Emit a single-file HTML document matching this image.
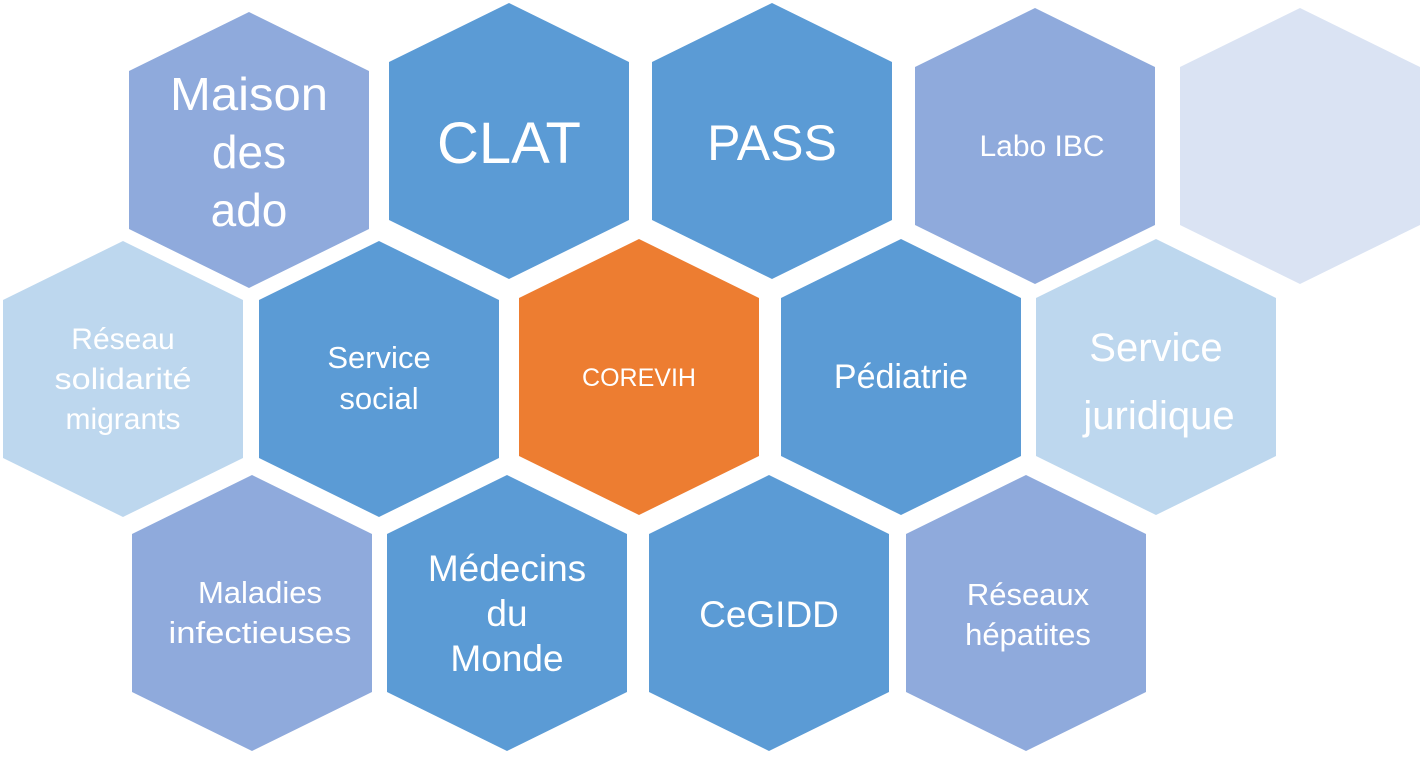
<!DOCTYPE html>
<html><head><meta charset="utf-8"><style>
html,body{margin:0;padding:0;background:#fff;width:1422px;height:757px;overflow:hidden}
text{font-family:"Liberation Sans",sans-serif;fill:#fff;text-anchor:middle}
</style></head><body>
<svg width="1422" height="757" viewBox="0 0 1422 757" xmlns="http://www.w3.org/2000/svg">
<defs>
<polygon id="h" points="0,-138 120,-79 120,79 0,138 -120,79 -120,-79"/>
</defs>
<use href="#h" x="249" y="150" fill="#8FAADC"/>
<use href="#h" x="509" y="141" fill="#5B9BD5"/>
<use href="#h" x="772" y="141" fill="#5B9BD5"/>
<use href="#h" x="1035" y="146" fill="#8FAADC"/>
<use href="#h" x="1300" y="146" fill="#DAE3F3"/>
<use href="#h" x="123" y="379" fill="#BDD7EE"/>
<use href="#h" x="379" y="379" fill="#5B9BD5"/>
<use href="#h" x="639" y="377" fill="#ED7D31"/>
<use href="#h" x="901" y="377" fill="#5B9BD5"/>
<use href="#h" x="1156" y="377" fill="#BDD7EE"/>
<use href="#h" x="252" y="613" fill="#8FAADC"/>
<use href="#h" x="507" y="613" fill="#5B9BD5"/>
<use href="#h" x="769" y="613" fill="#5B9BD5"/>
<use href="#h" x="1026" y="613" fill="#8FAADC"/>

<text x="249" y="110" font-size="46" textLength="158" lengthAdjust="spacingAndGlyphs">Maison</text>
<text x="249" y="168" font-size="46">des</text>
<text x="249" y="226" font-size="46">ado</text>
<text x="509" y="163" font-size="58">CLAT</text>
<text x="772" y="160" font-size="50">PASS</text>
<text x="1042" y="156" font-size="30">Labo IBC</text>
<text x="123" y="349" font-size="30">Réseau</text>
<text x="123" y="389" font-size="30" textLength="137" lengthAdjust="spacingAndGlyphs">solidarité</text>
<text x="123" y="429" font-size="30">migrants</text>
<text x="379" y="368" font-size="31">Service</text>
<text x="379" y="409" font-size="31">social</text>
<text x="639" y="386" font-size="25">COREVIH</text>
<text x="901" y="388" font-size="34">Pédiatrie</text>
<text x="1156" y="361" font-size="40">Service</text>
<text x="1159" y="429" font-size="40">juridique</text>
<text x="260" y="603" font-size="31">Maladies</text>
<text x="260" y="643" font-size="31" textLength="183" lengthAdjust="spacingAndGlyphs">infectieuses</text>
<text x="507" y="581" font-size="37">Médecins</text>
<text x="507" y="626" font-size="37">du</text>
<text x="507" y="671" font-size="37">Monde</text>
<text x="769" y="627" font-size="37">CeGIDD</text>
<text x="1028" y="605" font-size="31">Réseaux</text>
<text x="1028" y="645" font-size="31">hépatites</text>
</svg>
</body></html>
